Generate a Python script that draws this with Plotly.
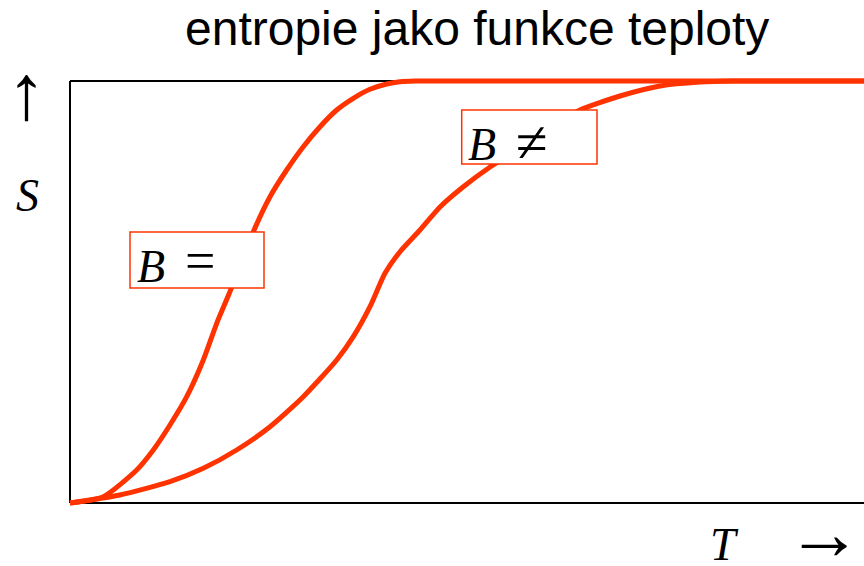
import plotly.graph_objects as go

# Data (T and S in arbitrary units, 0..100)
t_equal = [0, 4.19, 8.40, 10.49, 12.59, 14.70, 16.79, 18.48, 20.06, 23.09, 25.19, 27.29, 29.38, 31.49, 33.59, 35.68, 37.78, 39.89, 41.56, 43.45, 60, 100]
s_equal = [0, 1.49, 7.82, 12.56, 18.48, 25.19, 33.89, 42.58, 49.69, 64.29, 72.58, 78.91, 84.43, 89.17, 93.13, 95.90, 98.03, 99.29, 99.83, 100, 100, 100]

t_noneq = [0, 6.30, 12.59, 16.79, 20.99, 25.19, 29.38, 33.59, 35.68, 37.78, 39.67, 41.56, 44.08, 46.60, 49.50, 52.90, 56.68, 60.45, 64.23, 69.27, 74.31, 79.35, 83.50, 90, 100]
s_noneq = [0, 1.90, 5.05, 8.22, 12.56, 18.08, 25.19, 33.89, 39.41, 46.52, 54.43, 59.55, 64.69, 70.14, 74.88, 79.62, 84.12, 89.10, 93.13, 96.45, 98.82, 99.76, 100, 100, 100]

title_text = "entropie jako funkce teploty"
label_equal = ["B", "="]
label_noneq = ["B", "≠"]

RED = "#ff3300"
W, H = 864, 566
ML, MR, MT, MB = 60, 0, 70, 56

# pixel helpers (layout positioning of text/frame only)
def px_t(px):
    return (px - 70) / 7.94

def py_s(py):
    return (503 - py) / 4.22

def pxp(px):
    return (px - ML) / (W - ML - MR)

def pyp(py):
    return (H - MB - py) / (H - MT - MB)

fig = go.Figure()
fig.add_trace(go.Scatter(x=t_equal, y=s_equal, mode="lines",
                         line=dict(color=RED, width=5, shape="spline", smoothing=0.6),
                         hoverinfo="skip", showlegend=False))
fig.add_trace(go.Scatter(x=t_noneq, y=s_noneq, mode="lines",
                         line=dict(color=RED, width=5, shape="spline", smoothing=0.6),
                         hoverinfo="skip", showlegend=False))

shapes = [
    dict(type="line", x0=0, x1=0, y0=0, y1=100, line=dict(color="black", width=2), layer="below"),
    dict(type="line", x0=0, x1=px_t(880), y0=100, y1=100, line=dict(color="black", width=2), layer="below"),
    dict(type="line", x0=0, x1=px_t(880), y0=0, y1=0, line=dict(color="black", width=2), layer="below"),
    dict(type="rect", x0=px_t(130), x1=px_t(264), y0=py_s(288), y1=py_s(232),
         fillcolor="white", line=dict(color=RED, width=1.5), layer="above"),
    dict(type="rect", x0=px_t(461.7), x1=px_t(597), y0=py_s(164), y1=py_s(110),
         fillcolor="white", line=dict(color=RED, width=1.5), layer="above"),
]

serif = "Liberation Serif, Times New Roman, serif"
ann = [
    dict(text=title_text, x=pxp(477), y=pyp(28), xref="paper", yref="paper",
         showarrow=False, font=dict(family="Liberation Sans, Arial, sans-serif", size=48, color="black"),
         xanchor="center", yanchor="middle"),
    dict(text="<i>%s</i>" % label_equal[0], x=px_t(151), y=py_s(266), xref="x", yref="y",
         showarrow=False, font=dict(family=serif, size=46, color="black"), xanchor="center", yanchor="middle"),
    dict(text=label_equal[1], x=px_t(200), y=py_s(261), xref="x", yref="y",
         showarrow=False, font=dict(family=serif, size=54, color="black"), xanchor="center", yanchor="middle"),
    dict(text="<i>%s</i>" % label_noneq[0], x=px_t(482), y=py_s(144), xref="x", yref="y",
         showarrow=False, font=dict(family=serif, size=46, color="black"), xanchor="center", yanchor="middle"),
    dict(text=label_noneq[1], x=px_t(532), y=py_s(142), xref="x", yref="y",
         showarrow=False, font=dict(family=serif, size=58, color="black"), xanchor="center", yanchor="middle"),
    dict(text="<i>S</i>", x=pxp(27), y=pyp(195), xref="paper", yref="paper",
         showarrow=False, font=dict(family=serif, size=46, color="black"), xanchor="center", yanchor="middle"),
    dict(text="↑", x=pxp(26), y=pyp(92), xref="paper", yref="paper",
         showarrow=False, font=dict(family=serif, size=78, color="black"), xanchor="center", yanchor="middle"),
    dict(text="<i>T</i>", x=pxp(724), y=pyp(544), xref="paper", yref="paper", height=44,
         showarrow=False, font=dict(family=serif, size=46, color="black"), xanchor="center", yanchor="middle"),
    dict(text="→", x=pxp(824), y=pyp(533), xref="paper", yref="paper", height=50,
         showarrow=False, font=dict(family=serif, size=76, color="black"), xanchor="center", yanchor="middle"),
]

fig.update_layout(
    width=W, height=H,
    margin=dict(l=ML, r=MR, t=MT, b=MB, pad=0),
    paper_bgcolor="white", plot_bgcolor="white",
    xaxis=dict(range=[px_t(ML), px_t(W - MR)], visible=False, fixedrange=True),
    yaxis=dict(range=[py_s(H - MB), py_s(MT)], visible=False, fixedrange=True),
    shapes=shapes, annotations=ann, showlegend=False,
)

fig.write_html("out.html", config={"displayModeBar": False},
               post_script="document.body.style.margin='0';document.body.style.overflow='hidden';")
